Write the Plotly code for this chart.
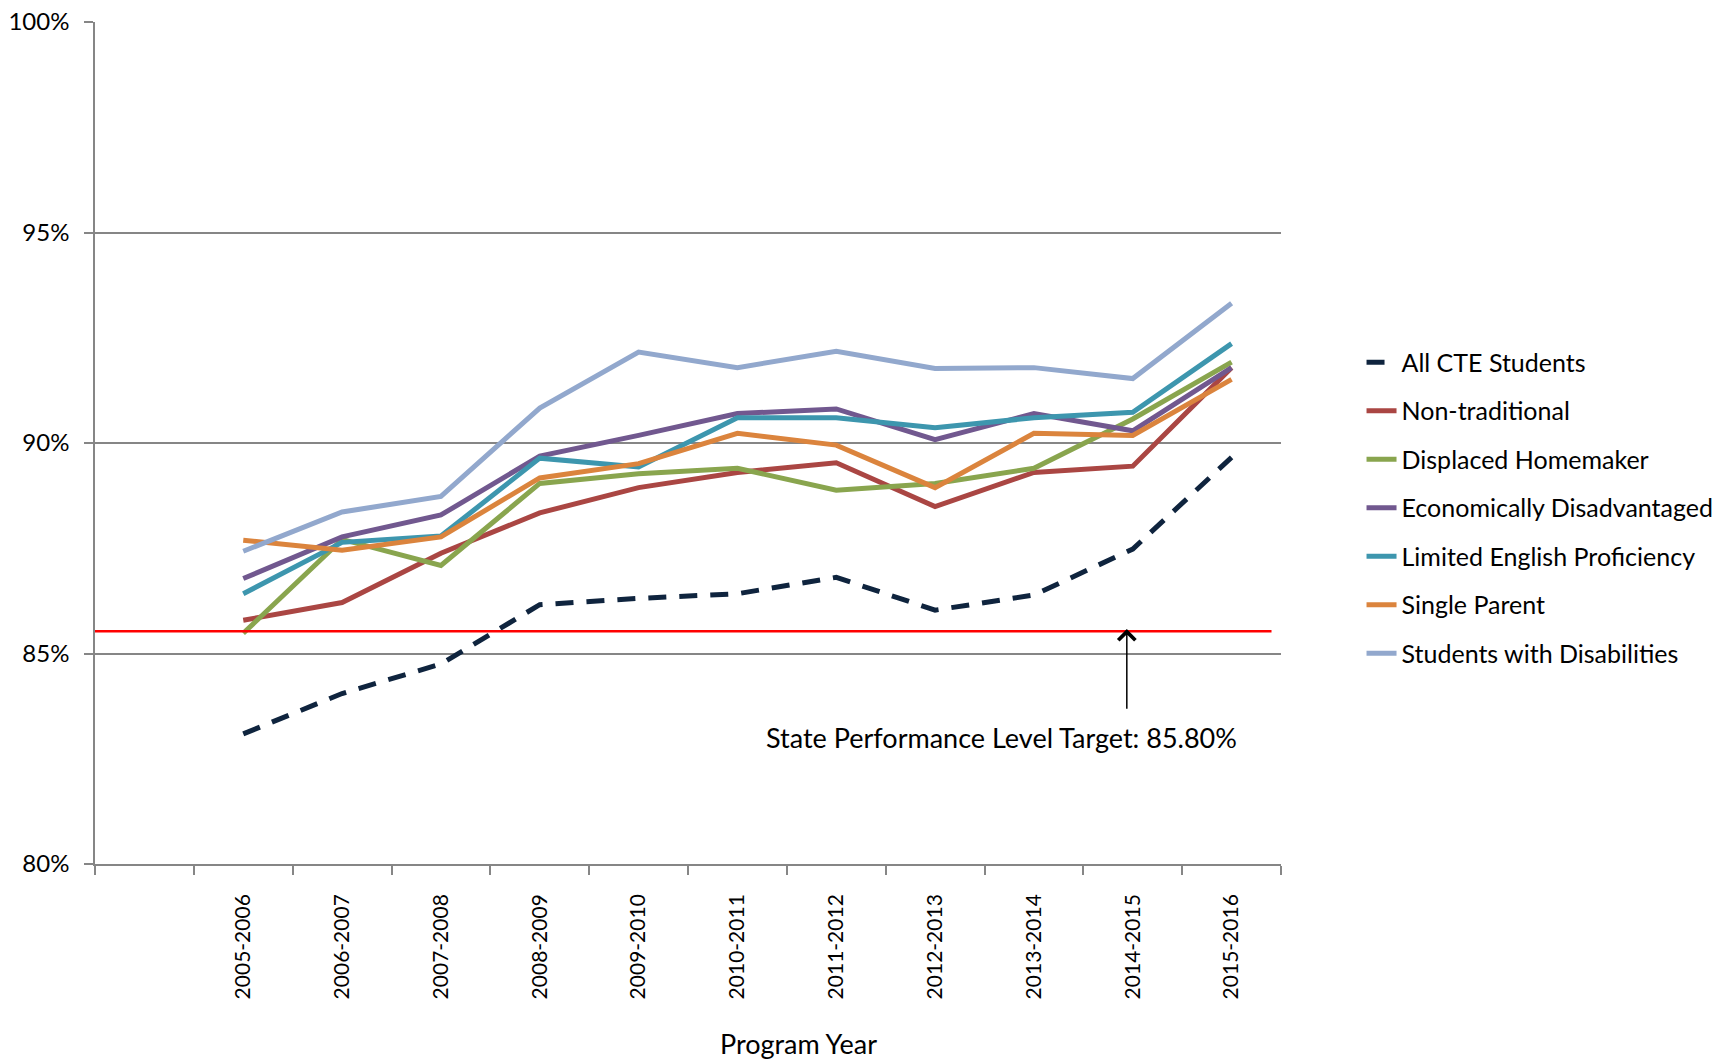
import plotly.graph_objects as go

# Program years (the first slot on the axis is left empty, as in the source chart)
program_years = ["2005-2006", "2006-2007", "2007-2008", "2008-2009", "2009-2010",
                 "2010-2011", "2011-2012", "2012-2013", "2013-2014", "2014-2015", "2015-2016"]

all_cte = [83.09, 84.05, 84.75, 86.16, 86.31, 86.42, 86.81, 86.03, 86.39, 87.48, 89.66]
non_traditional = [85.79, 86.21, 87.38, 88.34, 88.94, 89.30, 89.53, 88.49, 89.30, 89.45, 91.79]
displaced_homemaker = [85.48, 87.71, 87.09, 89.04, 89.27, 89.40, 88.88, 89.04, 89.40, 90.57, 91.92]
econ_disadvantaged = [86.78, 87.77, 88.29, 89.69, 90.18, 90.70, 90.81, 90.08, 90.70, 90.29, 91.79]
limited_english = [86.42, 87.64, 87.79, 89.64, 89.43, 90.60, 90.60, 90.36, 90.60, 90.73, 92.36]
single_parent = [87.69, 87.45, 87.77, 89.17, 89.51, 90.23, 89.95, 88.94, 90.23, 90.18, 91.51]
disabilities = [87.43, 88.36, 88.73, 90.83, 92.16, 91.79, 92.18, 91.77, 91.79, 91.53, 93.32]

target_line = 85.53
target_label = "State Performance Level Target: 85.80%"

FONT = "Lato"
GRID = "#868686"

series = [
    ("All CTE Students", all_cte, "#0F243E", "18px,13px"),
    ("Non-traditional", non_traditional, "#AA4643", "solid"),
    ("Displaced Homemaker", displaced_homemaker, "#89A54E", "solid"),
    ("Economically Disadvantaged", econ_disadvantaged, "#71588F", "solid"),
    ("Limited English Proficiency", limited_english, "#3D96AE", "solid"),
    ("Single Parent", single_parent, "#DB843D", "solid"),
    ("Students with Disabilities", disabilities, "#92A8CD", "solid"),
]

xpos = list(range(1, len(program_years) + 1))

fig = go.Figure()
for name, vals, color, dash in series:
    fig.add_trace(go.Scatter(
        x=xpos, y=vals, name=name, mode="lines", legendgroup=name,
        line=dict(color=color, width=5, dash=dash),
    ))

# target level line
fig.add_hline(y=target_line, x0=0, x1=0.992, line_color="#FF0000", line_width=2.5)

# arrow + label
fig.add_annotation(x=9.94, y=target_line + 0.05, ax=9.94, ay=83.65,
                   xref="x", yref="y", axref="x", ayref="y", text="",
                   showarrow=True, arrowhead=4, arrowsize=2.2, arrowwidth=1.5,
                   arrowcolor="#000000")
fig.add_annotation(x=8.67, y=83.0, xref="x", yref="y", text=target_label,
                   showarrow=False, font=dict(family=FONT, size=27, color="#000000"))

# axis title
fig.add_annotation(x=0.593, y=-0.2126, xref="paper", yref="paper", text="Program Year",
                   yanchor="middle", showarrow=False,
                   font=dict(family=FONT, size=27, color="#000000"))

# page body adds an 8px margin, so the figure is sized/placed to compensate
fig.update_layout(
    width=1721, height=1053,
    paper_bgcolor="white", plot_bgcolor="white",
    margin=dict(l=87, r=447, t=14, b=197),
    font=dict(family=FONT, size=22, color="#000000"),
    showlegend=True,
    legend=dict(x=1.067, xanchor="left", y=0.623, yanchor="top",
                font=dict(family=FONT, size=25), tracegroupgap=13,
                bgcolor="rgba(0,0,0,0)"),
    xaxis=dict(
        range=[-0.5, len(program_years) + 0.5], automargin=False,
        tickmode="array", tickvals=xpos, ticktext=program_years,
        tickangle=-90, ticks="outside", ticklen=20, tickcolor="rgba(0,0,0,0)",
        tickfont=dict(family=FONT, size=21),
        showgrid=False, zeroline=False,
        showline=True, linecolor=GRID, linewidth=1.5,
        minor=dict(tickmode="linear", tick0=-0.5, dtick=1, ticks="outside",
                   ticklen=9, tickcolor=GRID, tickwidth=1.5, showgrid=False),
    ),
    yaxis=dict(
        range=[80, 100], dtick=5, ticksuffix="%", automargin=False,
        ticklabeloverflow="allow", ticklabelstandoff=10,
        ticks="outside", ticklen=9, tickcolor=GRID, tickwidth=1.5,
        tickfont=dict(family=FONT, size=24),
        showgrid=True, gridcolor=GRID, gridwidth=1.5, zeroline=False,
        showline=True, linecolor=GRID, linewidth=1.5,
    ),
)

fig.write_html("out.html")
